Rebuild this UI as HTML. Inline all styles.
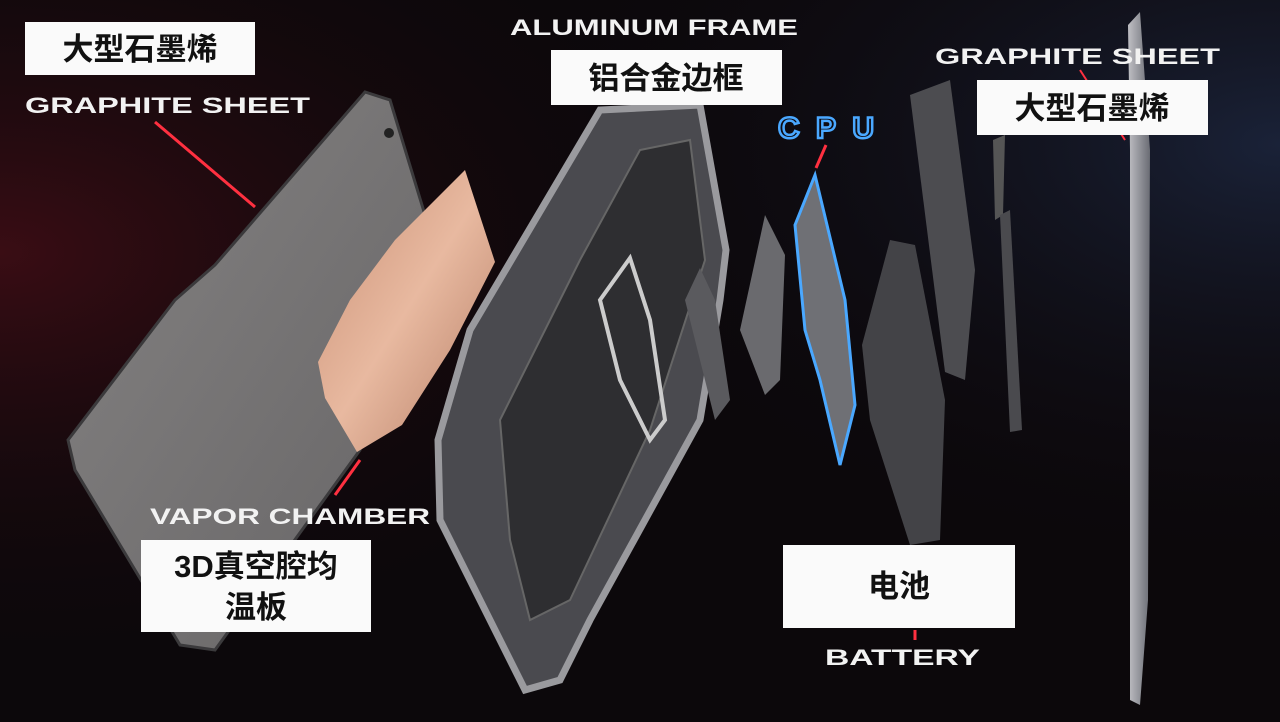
<!DOCTYPE html>
<html><head><meta charset="utf-8"><style>
html,body{margin:0;padding:0;width:1280px;height:722px;overflow:hidden;background:#0c080b}
svg{display:block}
.cn{font-family:"Liberation Sans","Noto Sans CJK SC",sans-serif;font-size:31px;font-weight:bold;fill:#111}
.en{font-family:"Liberation Sans",sans-serif;font-weight:bold;font-size:22px;fill:#f2f2f2}
</style></head><body>
<svg width="1280" height="722" viewBox="0 0 1280 722" xmlns="http://www.w3.org/2000/svg">
<defs>
<radialGradient id="rl" cx="0" cy="0.35" r="0.6"><stop offset="0" stop-color="#3a0d14"/><stop offset="1" stop-color="#0c080b" stop-opacity="0"/></radialGradient>
<radialGradient id="rr" cx="1" cy="0.2" r="0.6"><stop offset="0" stop-color="#1a2238"/><stop offset="1" stop-color="#0c080b" stop-opacity="0"/></radialGradient>
<linearGradient id="cu" x1="0" y1="0" x2="1" y2="1"><stop offset="0" stop-color="#c98f74"/><stop offset="0.5" stop-color="#e8b9a0"/><stop offset="1" stop-color="#b47c64"/></linearGradient>
<linearGradient id="pl" x1="0" y1="0" x2="1" y2="1"><stop offset="0" stop-color="#858383"/><stop offset="1" stop-color="#666465"/></linearGradient>
<linearGradient id="st" x1="0" y1="0" x2="1" y2="0"><stop offset="0" stop-color="#bfbfc4"/><stop offset="1" stop-color="#6a6c74"/></linearGradient>
</defs>
<rect width="1280" height="722" fill="#0c080b"/>
<rect width="1280" height="722" fill="url(#rl)"/>
<rect width="1280" height="722" fill="url(#rr)"/>
<polygon points="68,440 175,300 215,265 365,92 390,100 425,215 360,450 215,650 180,645 75,470" fill="url(#pl)" stroke="#3b3a3c" stroke-width="3"/>
<circle cx="389" cy="133" r="5" fill="#222"/>
<polygon points="318,362 350,300 395,240 465,170 495,262 450,350 402,425 357,452 325,398" fill="url(#cu)"/>
<polygon points="438,440 470,330 600,110 700,105 726,250 720,300 700,420 590,620 560,680 525,690 440,520" fill="#4a4a4f" stroke="#9a9a9e" stroke-width="7"/>
<polygon points="500,420 580,260 640,150 690,140 705,260 650,430 570,600 530,620 510,540" fill="#2e2e31" stroke="#666" stroke-width="2"/>
<polygon points="600,300 630,258 650,320 665,420 650,440 620,380" fill="none" stroke="#ccc" stroke-width="4"/>
<polygon points="685,300 700,268 715,300 730,400 715,420" fill="#5a5a5e"/>
<polygon points="740,330 765,215 785,255 780,380 765,395" fill="#6a6a6e"/>
<polygon points="795,225 815,175 845,300 855,405 840,465 820,380 805,330" fill="#6f7075" stroke="#4aa8ff" stroke-width="3"/>
<text x="778" y="138" font-family="Liberation Sans,sans-serif" font-weight="bold" font-size="30" fill="none" stroke="#4aa8ff" stroke-width="2.5" textLength="96">CPU</text>
<line x1="826" y1="145" x2="816" y2="168" stroke="#ff3040" stroke-width="3"/>
<polygon points="910,95 950,80 975,270 965,380 945,372 922,190" fill="#4c4c50"/>
<polygon points="862,345 890,240 915,245 945,400 940,540 910,545 870,420" fill="#434347"/>
<polygon points="993,140 1005,135 1003,215 995,220" fill="#555"/>
<polygon points="1000,215 1010,210 1022,430 1010,432" fill="#4a4a4e"/>
<polygon points="1128,25 1140,12 1150,150 1148,600 1140,705 1130,700 1130,150" fill="url(#st)"/>
<line x1="155" y1="122" x2="255" y2="207" stroke="#ff3040" stroke-width="3"/>
<line x1="360" y1="460" x2="335" y2="495" stroke="#ff3040" stroke-width="3"/>
<line x1="1080" y1="70" x2="1125" y2="140" stroke="#ff3040" stroke-width="2"/>
<line x1="915" y1="630" x2="915" y2="640" stroke="#ff3040" stroke-width="3"/>
<rect x="25" y="22" width="230" height="53" fill="#fafafa"/>
<text class="cn" x="140" y="60" text-anchor="middle">大型石墨烯</text>
<rect x="551" y="50" width="231" height="55" fill="#fafafa"/>
<text class="cn" x="666" y="89" text-anchor="middle">铝合金边框</text>
<rect x="977" y="80" width="231" height="55" fill="#fafafa"/>
<text class="cn" x="1092" y="119" text-anchor="middle">大型石墨烯</text>
<rect x="141" y="540" width="230" height="92" fill="#fafafa"/>
<text class="cn" x="256" y="577" text-anchor="middle">3D真空腔均</text>
<text class="cn" x="256" y="618" text-anchor="middle">温板</text>
<rect x="783" y="545" width="232" height="83" fill="#fafafa"/>
<text class="cn" x="899" y="597" text-anchor="middle">电池</text>
<text class="en" x="25" y="113" textLength="285" lengthAdjust="spacingAndGlyphs">GRAPHITE SHEET</text>
<text class="en" x="510" y="35" textLength="288" lengthAdjust="spacingAndGlyphs">ALUMINUM FRAME</text>
<text class="en" x="935" y="64" textLength="285" lengthAdjust="spacingAndGlyphs">GRAPHITE SHEET</text>
<text class="en" x="150" y="524" textLength="280" lengthAdjust="spacingAndGlyphs">VAPOR CHAMBER</text>
<text class="en" x="825" y="665" textLength="155" lengthAdjust="spacingAndGlyphs">BATTERY</text>
</svg>
</body></html>
